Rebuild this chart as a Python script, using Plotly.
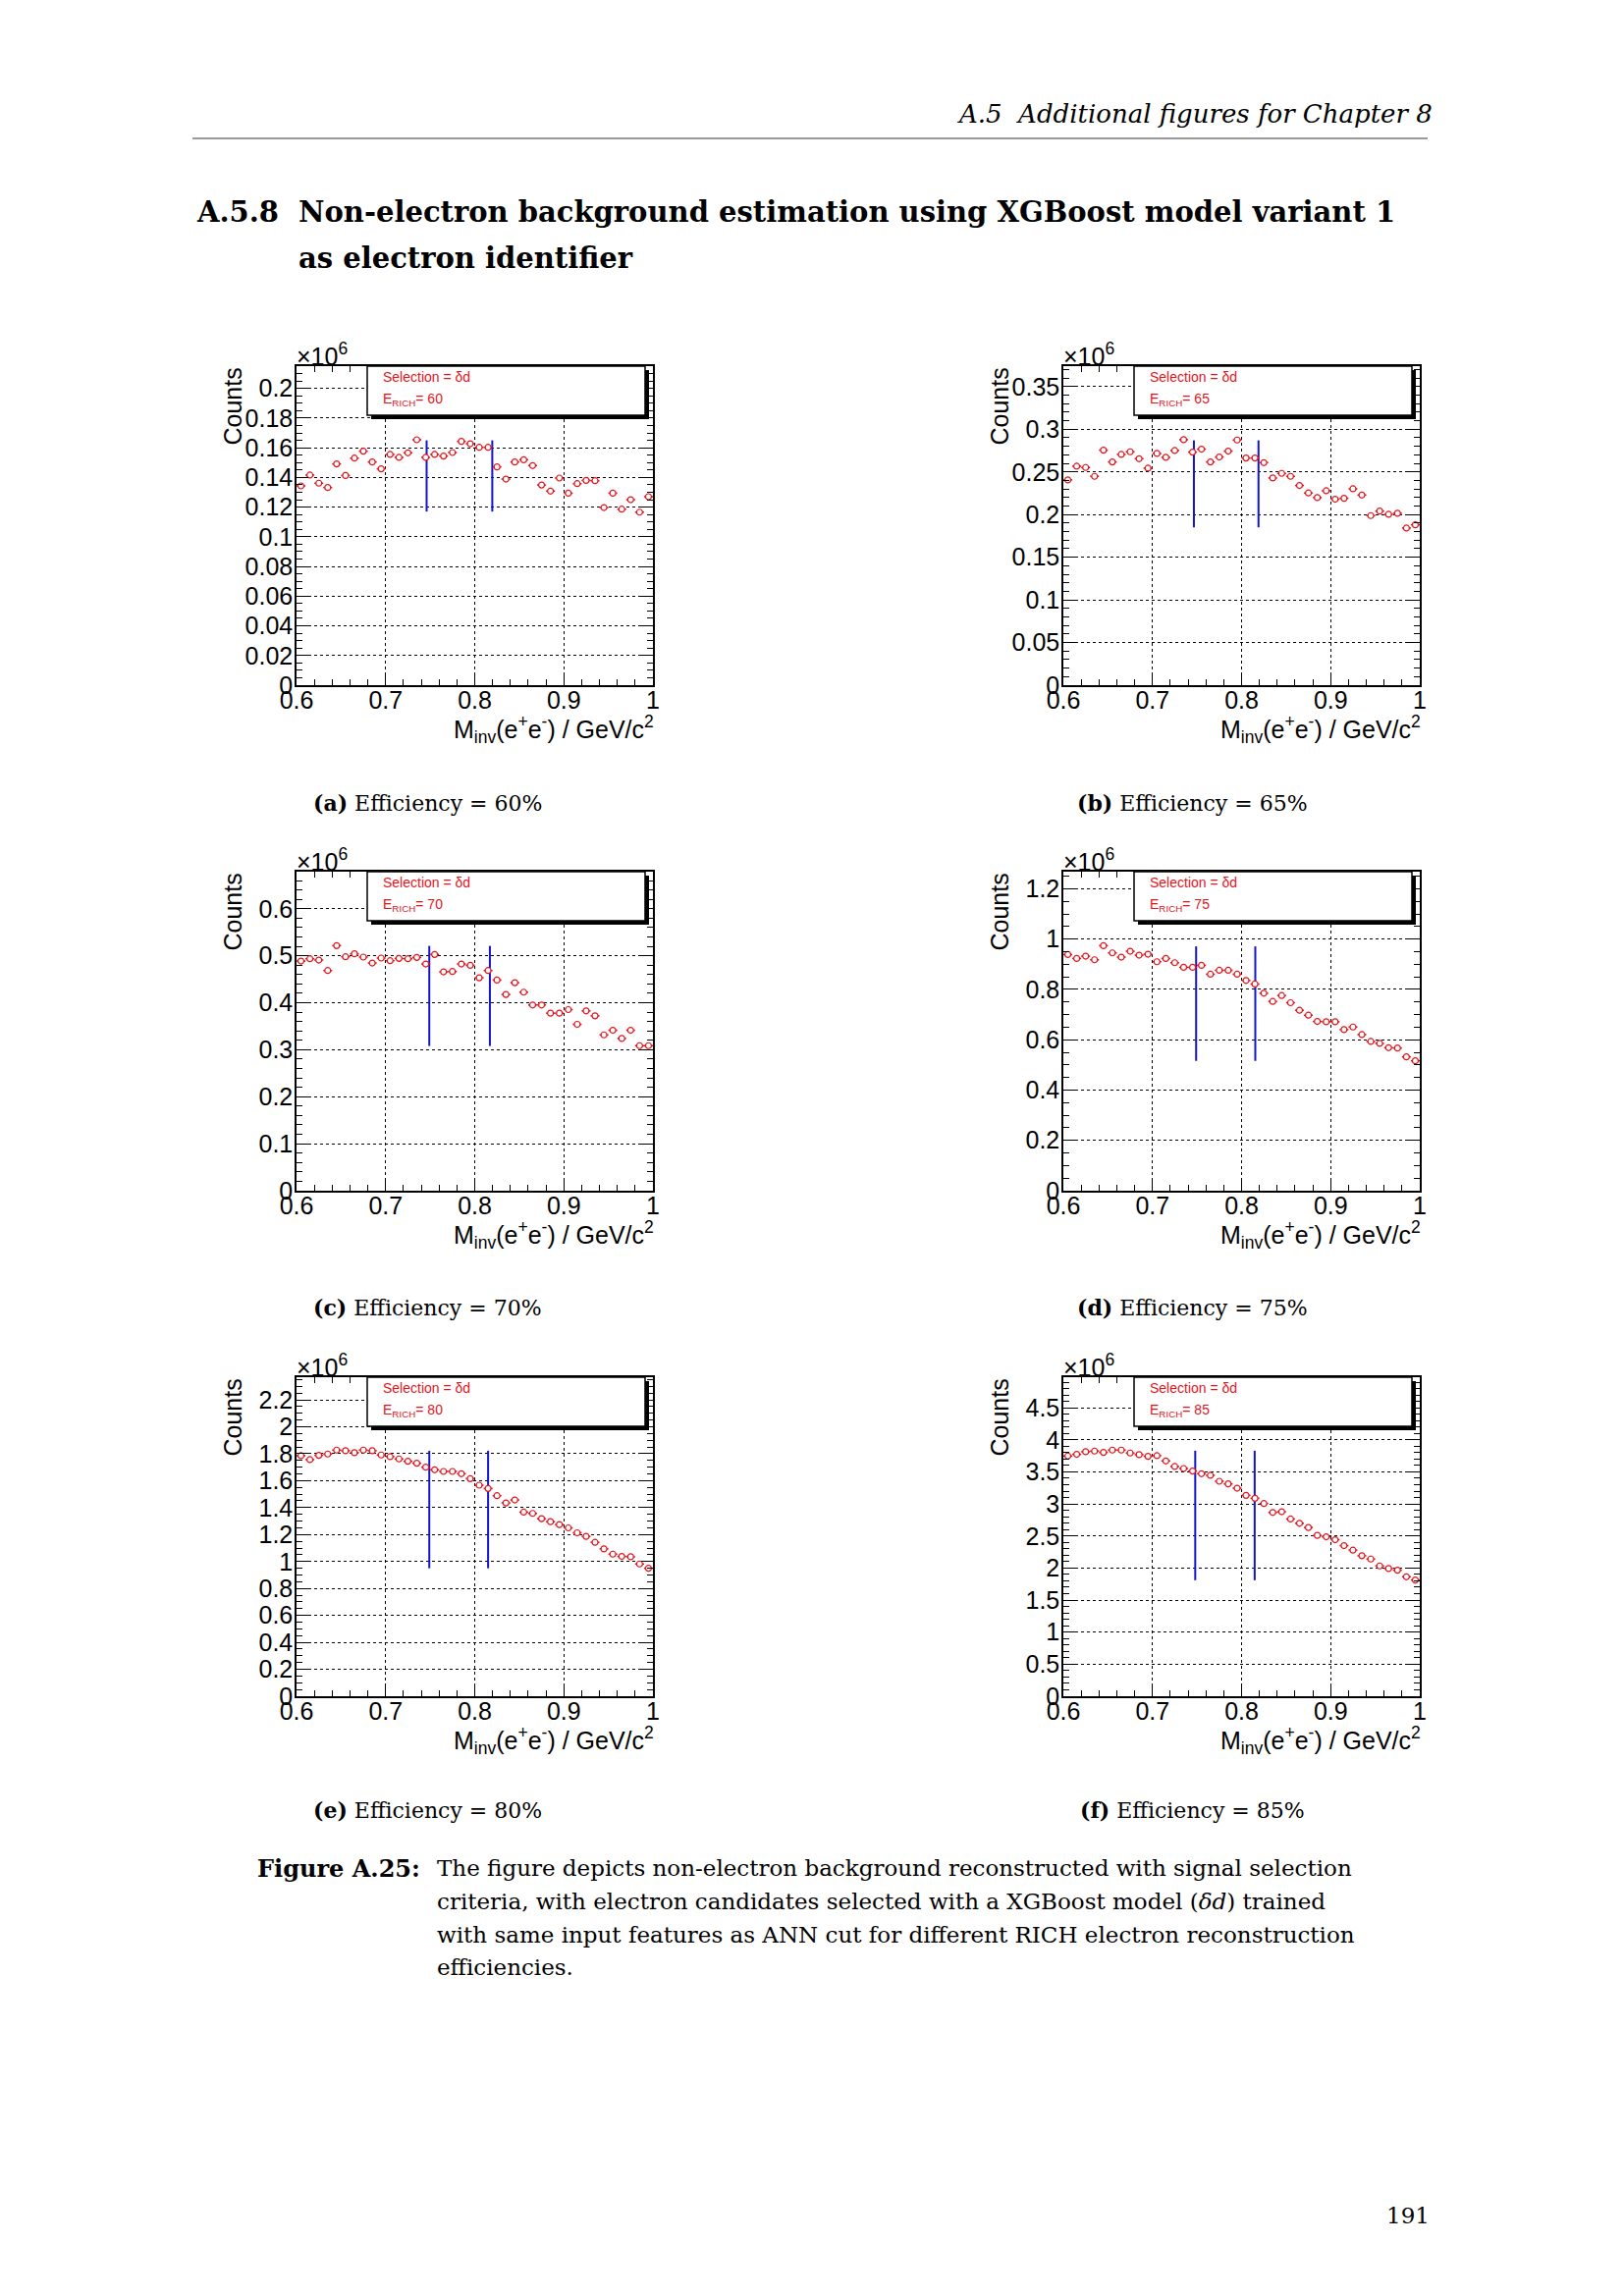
import plotly.graph_objects as go

# ---------------- data ----------------
bin_centers = [round(0.605 + 0.01 * i, 3) for i in range(40)]
bin_half_width = 0.005

efficiencies = [60, 65, 70, 75, 80, 85]
panel_labels = ["a", "b", "c", "d", "e", "f"]

counts_60 = [0.1343, 0.1416, 0.1361, 0.1332, 0.1491, 0.1413, 0.1530, 0.1577, 0.1504, 0.1458,
             0.1555, 0.1535, 0.1566, 0.1654, 0.1535, 0.1555, 0.1544, 0.1568, 0.1643, 0.1627,
             0.1603, 0.1603, 0.1471, 0.1389, 0.1504, 0.1519, 0.1480, 0.1349, 0.1308, 0.1396,
             0.1294, 0.1358, 0.1380, 0.1378, 0.1197, 0.1294, 0.1186, 0.1250, 0.1166, 0.1270]
counts_65 = [0.2406, 0.2567, 0.2552, 0.2448, 0.2755, 0.2617, 0.2705, 0.2736, 0.2655, 0.2544,
             0.2717, 0.2671, 0.2751, 0.2878, 0.2732, 0.2767, 0.2617, 0.2675, 0.2744, 0.2874,
             0.2663, 0.2663, 0.2609, 0.2429, 0.2483, 0.2448, 0.2341, 0.2253, 0.2199, 0.2279,
             0.2180, 0.2191, 0.2302, 0.2229, 0.1988, 0.2041, 0.2003, 0.2015, 0.1842, 0.1880]
counts_70 = [0.4888, 0.4937, 0.4909, 0.4686, 0.5216, 0.4979, 0.5042, 0.4972, 0.4846, 0.4951,
             0.4895, 0.4944, 0.4937, 0.4965, 0.4825, 0.5028, 0.4658, 0.4665, 0.4825, 0.4797,
             0.4532, 0.4686, 0.4483, 0.4176, 0.4427, 0.4225, 0.3953, 0.3953, 0.3778, 0.3778,
             0.3855, 0.3541, 0.3827, 0.3722, 0.3317, 0.3415, 0.3240, 0.3415, 0.3087, 0.3087]
counts_75 = [0.9387, 0.9231, 0.9322, 0.9179, 0.9739, 0.9452, 0.9283, 0.9518, 0.9361, 0.9400,
             0.9100, 0.9231, 0.9061, 0.8879, 0.8879, 0.8957, 0.8605, 0.8761, 0.8761, 0.8605,
             0.8357, 0.8214, 0.7849, 0.7523, 0.7757, 0.7471, 0.7171, 0.6975, 0.6728, 0.6714,
             0.6714, 0.6402, 0.6506, 0.6206, 0.5932, 0.5854, 0.5684, 0.5671, 0.5319, 0.5163]
counts_80 = [1.7856, 1.7564, 1.7881, 1.7978, 1.8270, 1.8222, 1.8076, 1.8270, 1.8222, 1.7905,
             1.7783, 1.7613, 1.7442, 1.7296, 1.7004, 1.6809, 1.6687, 1.6687, 1.6516, 1.6151,
             1.5664, 1.5420, 1.4884, 1.4348, 1.4568, 1.3666, 1.3569, 1.3179, 1.2960, 1.2741,
             1.2497, 1.2132, 1.1864, 1.1425, 1.0938, 1.0548, 1.0378, 1.0353, 0.9817, 0.9501]
counts_85 = [3.748, 3.774, 3.815, 3.825, 3.804, 3.840, 3.840, 3.794, 3.769, 3.743,
             3.753, 3.671, 3.584, 3.553, 3.513, 3.472, 3.446, 3.354, 3.313, 3.246,
             3.134, 3.088, 3.006, 2.867, 2.878, 2.765, 2.698, 2.632, 2.509, 2.488,
             2.442, 2.350, 2.279, 2.192, 2.140, 2.033, 1.992, 1.966, 1.864, 1.813]
all_counts = [counts_60, counts_65, counts_70, counts_75, counts_80, counts_85]

# y axis maxima (units of 10^6), major and minor tick steps
y_max = [0.215, 0.374, 0.679, 1.268, 2.368, 4.977]
y_major = [0.02, 0.05, 0.1, 0.2, 0.2, 0.5]
y_minor = [0.005, 0.01, 0.02, 0.05, 0.05, 0.1]

# blue mass-window markers: x positions and vertical extent
window_low_x = [0.746, 0.7465, 0.749, 0.749, 0.749, 0.748]
window_high_x = [0.8197, 0.819, 0.817, 0.8154, 0.815, 0.8147]
window_y_bottom = [0.117, 0.185, 0.308, 0.516, 0.950, 1.81]
window_y_top = [0.165, 0.287, 0.521, 0.971, 1.822, 3.83]

caption_lines = [
    "The figure depicts non-electron background reconstructed with signal selection",
    "criteria, with electron candidates selected with a XGBoost model (<i>δd</i>) trained",
    "with same input features as ANN cut for different RICH electron reconstruction",
    "efficiencies.",
]

# ---------------- layout geometry (pixels) ----------------
W, H = 1654, 2339
col_left = [302, 1083]
frame_w = 363
row_top = [373, 888, 1403]
frame_h = 325


def px(x):
    return x / W


def py(y):
    return 1 - y / H


serif = "DejaVu Serif"
sans = "Liberation Sans"
red = "#e3141c"
blue = "#1414c8"

fig = go.Figure()
layout = dict(width=W, height=H, margin=dict(l=0, r=0, t=0, b=0, autoexpand=False),
              paper_bgcolor="white", plot_bgcolor="white", showlegend=False)
annotations = []
shapes = []

for i in range(6):
    col = i % 2
    row = i // 2
    L = col_left[col]
    T = row_top[row]
    R = L + frame_w
    B = T + frame_h
    xa = "xaxis" if i == 0 else f"xaxis{i+1}"
    ya = "yaxis" if i == 0 else f"yaxis{i+1}"
    xr = "x" if i == 0 else f"x{i+1}"
    yr = "y" if i == 0 else f"y{i+1}"

    layout[xa] = dict(domain=[px(L), px(R)], anchor=yr, range=[0.6, 1.0],
                      tickmode="linear", tick0=0.6, dtick=0.1,
                      ticks="inside", ticklen=12, tickwidth=1, tickcolor="black",
                      minor=dict(dtick=0.02, tick0=0.6, ticks="inside", ticklen=6,
                                 tickcolor="black", showgrid=False),
                      showline=True, linecolor="black", linewidth=1.5, mirror="allticks",
                      showgrid=True, gridcolor="black", griddash="dot", gridwidth=1,
                      zeroline=False, ticklabelstandoff=-8, automargin=False,
                      tickfont=dict(family=sans, size=25, color="black"))
    layout[ya] = dict(domain=[py(B), py(T)], anchor=xr, range=[0, y_max[i]],
                      tickmode="linear", tick0=0, dtick=y_major[i],
                      ticks="inside", ticklen=12, tickwidth=1, tickcolor="black",
                      minor=dict(dtick=y_minor[i], tick0=0, ticks="inside", ticklen=6,
                                 tickcolor="black", showgrid=False),
                      showline=True, linecolor="black", linewidth=1.5, mirror="allticks",
                      showgrid=True, gridcolor="black", griddash="dot", gridwidth=1,
                      zeroline=False, ticklabelstandoff=-3, automargin=False,
                      tickfont=dict(family=sans, size=25, color="black"))

    # mass window lines
    for xv in (window_low_x[i], window_high_x[i]):
        fig.add_trace(go.Scatter(x=[xv, xv], y=[window_y_bottom[i], window_y_top[i]],
                                 mode="lines", line=dict(color=blue, width=2),
                                 xaxis=xr, yaxis=yr, hoverinfo="skip"))
    # data points (hollow circles drawn over the bin-width bars)
    fig.add_trace(go.Scatter(x=bin_centers, y=all_counts[i], mode="markers",
                             marker=dict(symbol="circle", size=6, color="white",
                                         line=dict(width=1.2, color=red)),
                             error_x=dict(type="constant", value=bin_half_width, color=red,
                                          thickness=1.5, width=0),
                             xaxis=xr, yaxis=yr))

    # legend box with shadow
    bl, br, bt, bb = L + 72, R - 8, T, T + 50
    shapes.append(dict(type="rect", xref="paper", yref="paper",
                       x0=px(bl + 4), x1=px(br + 4), y0=py(bb + 4), y1=py(bt + 4),
                       fillcolor="black", line=dict(width=0), layer="above"))
    shapes.append(dict(type="rect", xref="paper", yref="paper",
                       x0=px(bl), x1=px(br), y0=py(bb), y1=py(bt),
                       fillcolor="white", line=dict(color="black", width=1.5), layer="above"))
    annotations.append(dict(x=px(L + 86), y=py(T + 11), xref="paper", yref="paper",
                            text="Selection = δd", showarrow=False, xanchor="left",
                            yanchor="middle", font=dict(family=sans, size=14, color=red)))
    annotations.append(dict(x=px(L + 86), y=py(T + 34), xref="paper", yref="paper",
                            text=f"E<sub>RICH</sub>= {efficiencies[i]}", showarrow=False,
                            xanchor="left", yanchor="middle",
                            font=dict(family=sans, size=14, color=red)))

    # axis titles
    annotations.append(dict(x=px(L - 66), y=py(T), xref="paper", yref="paper",
                            text="Counts", textangle=-90, showarrow=False,
                            xanchor="center", yanchor="top",
                            font=dict(family=sans, size=25, color="black")))
    annotations.append(dict(x=px(R + 3), y=py(B + 45), xref="paper", yref="paper",
                            text="M<sub>inv</sub>(e<sup>+</sup>e<sup>-</sup>) / GeV/c<sup>2</sup>",
                            showarrow=False, xanchor="right", yanchor="middle",
                            font=dict(family=sans, size=25, color="black")))
    annotations.append(dict(x=px(L - 2), y=py(T - 12), xref="paper", yref="paper",
                            text="×10<sup>6</sup>", showarrow=False, xanchor="left",
                            yanchor="middle", font=dict(family=sans, size=25, color="black")))

    # sub-caption
    cap_y = [818, 1332, 1844][row]
    cap_x = [436, 1214][col]
    annotations.append(dict(x=px(cap_x), y=py(cap_y), xref="paper", yref="paper",
                            text=f"<b>({panel_labels[i]})</b> Efficiency = {efficiencies[i]}%",
                            showarrow=False, xanchor="center", yanchor="middle",
                            font=dict(family=serif, size=22, color="black")))

# page header
annotations.append(dict(x=px(1461), y=py(116), xref="paper", yref="paper",
                        text="<i>A.5  Additional figures for Chapter 8</i>", showarrow=False,
                        xanchor="right", yanchor="middle",
                        font=dict(family=serif, size=26, color="black")))
shapes.append(dict(type="line", xref="paper", yref="paper", x0=px(196), x1=px(1454),
                   y0=py(141), y1=py(141), line=dict(color="#999999", width=2)))

# section title
annotations.append(dict(x=px(198), y=py(216), xref="paper", yref="paper",
                        text="<b>A.5.8</b>", showarrow=False, xanchor="left", yanchor="middle",
                        font=dict(family=serif, size=29, color="black")))
annotations.append(dict(x=px(302), y=py(216), xref="paper", yref="paper",
                        text="<b>Non-electron background estimation using XGBoost model variant 1</b>",
                        showarrow=False, xanchor="left", yanchor="middle",
                        font=dict(family=serif, size=29, color="black")))
annotations.append(dict(x=px(302), y=py(263), xref="paper", yref="paper",
                        text="<b>as electron identifier</b>", showarrow=False,
                        xanchor="left", yanchor="middle",
                        font=dict(family=serif, size=29, color="black")))

# figure caption
annotations.append(dict(x=px(260), y=py(1903), xref="paper", yref="paper",
                        text="<b>Figure A.25:</b>", showarrow=False, xanchor="left",
                        yanchor="middle", font=dict(family=serif, size=24, color="black")))
cap_line_y = [1903, 1937, 1971, 2004]
for txt, yy in zip(caption_lines, cap_line_y):
    annotations.append(dict(x=px(443), y=py(yy), xref="paper", yref="paper", text=txt,
                            showarrow=False, xanchor="left", yanchor="middle",
                            font=dict(family=serif, size=23, color="black")))

# page number
annotations.append(dict(x=px(1458), y=py(2257), xref="paper", yref="paper", text="191",
                        showarrow=False, xanchor="right", yanchor="middle",
                        font=dict(family=serif, size=23, color="black")))

layout["annotations"] = annotations
layout["shapes"] = shapes
fig.update_layout(**layout)
fig.write_html("out.html", config={"displayModeBar": False},
               post_script="document.body.style.margin='0px';document.body.style.overflow='hidden';")
